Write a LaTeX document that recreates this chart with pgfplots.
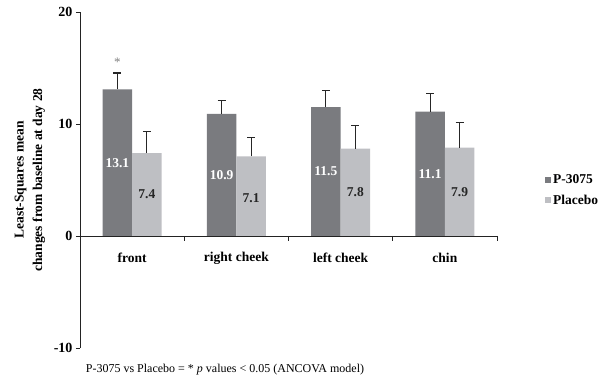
\documentclass[border=0pt]{standalone}
\usepackage{fontspec}
\setmainfont{Liberation Serif}
\usepackage{pgfplots}
\pgfplotsset{compat=1.18}
\usepackage{pgfplotstable}
\definecolor{darkbar}{RGB}{122,123,127}
\definecolor{lightbar}{RGB}{190,191,195}
\definecolor{axisgray}{RGB}{35,35,35}

\pgfplotstableread{
x y err ly lab
0 13.1 1.45 6.55 13.1
1 10.9 1.2 5.45 10.9
2 11.5 1.5 5.75 11.5
3 11.1 1.6 5.55 11.1
}\ptable
\pgfplotstableread{
x y err ly lab
0 7.4 1.9 3.7 7.4
1 7.1 1.7 3.4 7.1
2 7.8 2.1 3.9 7.8
3 7.9 2.2 3.95 7.9
}\pltable

\newcommand{\bfs}{\fontsize{13.5bp}{16bp}\selectfont\bfseries}

\begin{document}
\begin{tikzpicture}
\begin{axis}[
  name=ax,
  scale only axis,
  width=417bp, height=336bp,
  xmin=-0.5, xmax=3.5,
  ymin=-10, ymax=20,
  axis y line=left,
  axis x line=none,
  y axis line style={-, draw=axisgray, line width=0.8bp},
  ytick={-10,0,10,20},
  tick align=outside,
  major tick length=4bp,
  ytick style={draw=axisgray, line width=0.8bp},
  yticklabel style={font=\fontsize{14bp}{16bp}\selectfont\bfseries},
  /pgf/number format/assume math mode=true,
  clip=false,
  legend style={at={(rel axis cs:1.115,0.47)}, anchor=west, draw=none, fill=none,
    font=\bfs, row sep=6bp, inner sep=0pt, cells={anchor=west}},
]
\addplot[ybar, bar width=0.283, bar shift=0pt, fill=darkbar, draw=none,
  legend image code/.code={\fill[darkbar] (0bp,-3bp) rectangle (6bp,3bp);},
  error bars/.cd, y dir=plus, y explicit,
  error bar style={line width=1.2bp, draw=black!85},
  error mark options={rotate=90, mark size=4bp, line width=1.2bp, draw=black!85}]
  table[x expr=\thisrow{x}-0.1415, y=y, y error=err]{\ptable};
\addlegendentry{P-3075}
\addplot[ybar, bar width=0.283, bar shift=0pt, fill=lightbar, draw=none,
  legend image code/.code={\fill[lightbar] (0bp,-3bp) rectangle (6bp,3bp);},
  error bars/.cd, y dir=plus, y explicit,
  error bar style={line width=1.2bp, draw=black!85},
  error mark options={rotate=90, mark size=4bp, line width=1.2bp, draw=black!85}]
  table[x expr=\thisrow{x}+0.1415, y=y, y error=err]{\pltable};
\addlegendentry{Placebo}

\addplot[forget plot, draw=none, mark=none, nodes near coords, point meta=explicit symbolic,
  every node near coord/.append style={anchor=center, font=\bfs, text=white}]
  table[x expr=\thisrow{x}-0.1415, y=ly, meta=lab]{\ptable};
\addplot[forget plot, draw=none, mark=none, nodes near coords, point meta=explicit symbolic,
  every node near coord/.append style={anchor=center, font=\bfs, text=black!85}]
  table[x expr=\thisrow{x}+0.1415, y=ly, meta=lab]{\pltable};

\draw[axisgray, line width=0.8bp] (axis cs:-0.5,0) -- (axis cs:3.5,0);
\pgfplotsinvokeforeach{0.5,1.5,2.5,3.5}{\draw[axisgray, line width=0.8bp] (axis cs:#1,0) -- ++(0pt,-5bp);}
\node[font=\bfs] at ([yshift=-22bp]axis cs:0,0) {front};
\node[font=\bfs] at ([yshift=-22bp]axis cs:1,0) {right cheek};
\node[font=\bfs] at ([yshift=-22bp]axis cs:2,0) {left cheek};
\node[font=\bfs] at ([yshift=-22bp]axis cs:3,0) {chin};
\node[text=gray, font=\fontsize{13bp}{13bp}\selectfont] at (axis cs:-0.1415,15.5) {*};
\end{axis}
\node[rotate=90, align=center, font=\fontsize{13.5bp}{18.5bp}\selectfont\bfseries] at ([xshift=-50bp]ax.west) {Least-Squares mean\\changes from baseline at day 28};
\node[font=\fontsize{12bp}{14bp}\selectfont] at ([shift={(145bp,-22bp)}]ax.south west) {P-3075 vs Placebo = * \textit{p} values < 0.05 (ANCOVA model)};
\pgfresetboundingbox
\path ([shift={(-80bp,-35bp)}]ax.south west) rectangle ([shift={(110bp,12bp)}]ax.north east);
\end{tikzpicture}
\end{document}
